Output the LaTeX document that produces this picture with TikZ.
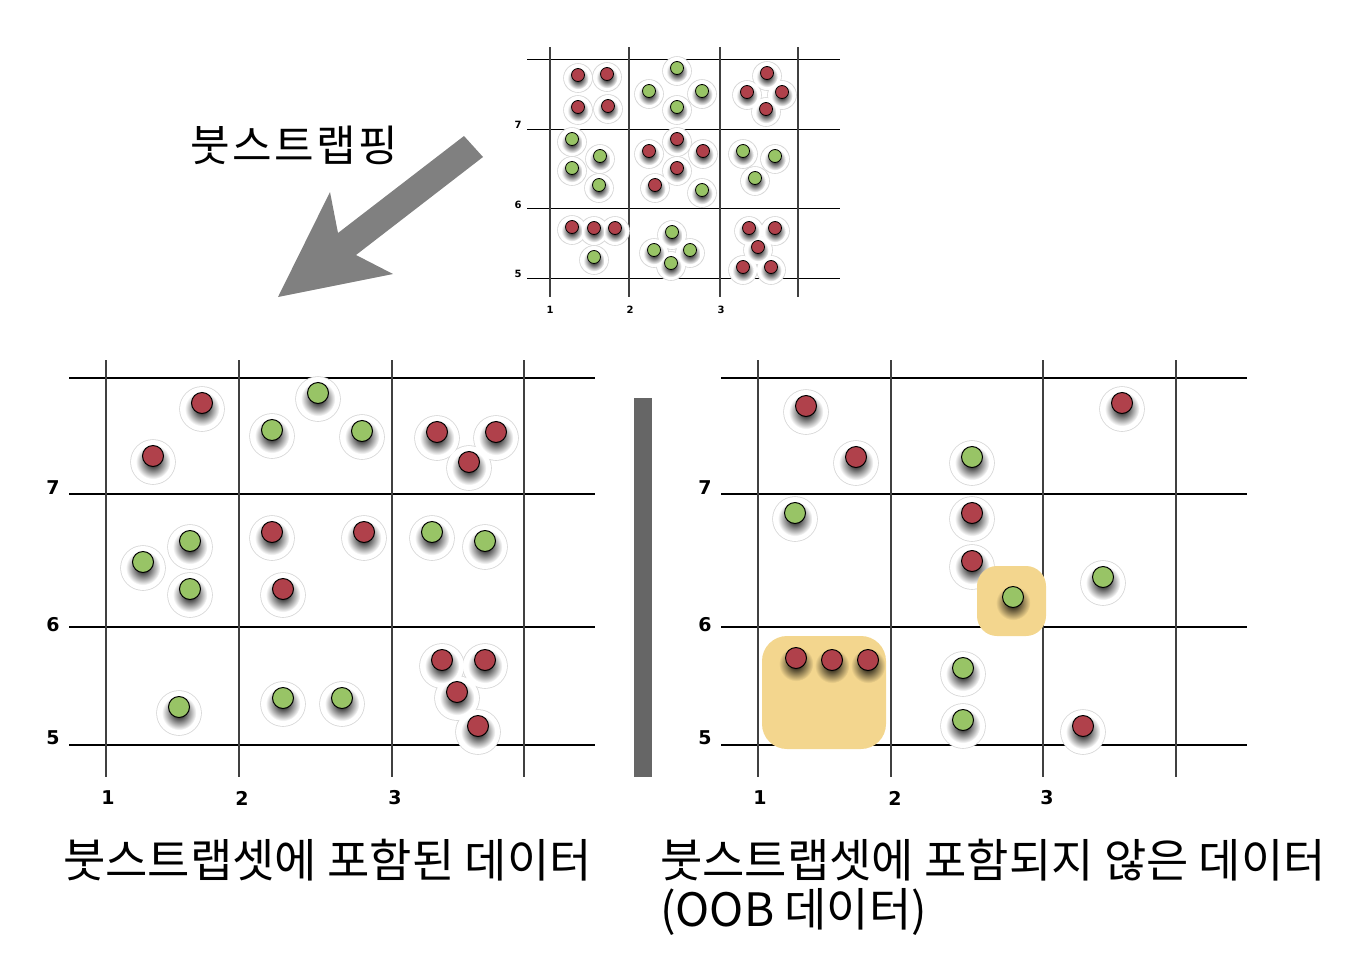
\documentclass[tikz,border=0pt]{standalone}
\usepackage{fontspec}
\setmainfont{Noto Sans CJK KR}
\newfontfamily\widefont[LetterSpace=6]{Noto Sans CJK KR}
\newfontfamily\numfont{DejaVu Sans}
\definecolor{dotred}{HTML}{B0414B}
\definecolor{dotgreen}{HTML}{98C466}
\definecolor{boxyellow}{HTML}{F3D68E}
\definecolor{arrowgray}{HTML}{808080}
\definecolor{bargray}{HTML}{666666}

% sample points: x/y/colour
\def\topdots{578/75/dotred,607/74/dotred,578/107/dotred,608/106/dotred,%
767/73/dotred,747/92/dotred,782/92/dotred,766/109/dotred,%
677/139/dotred,649/151/dotred,703/151/dotred,677/168/dotred,655/185/dotred,%
572/227/dotred,594/228/dotred,615/228/dotred,%
749/228/dotred,775/228/dotred,758/247/dotred,743/267/dotred,771/267/dotred,%
677/68/dotgreen,649/91/dotgreen,702/91/dotgreen,677/107/dotgreen,%
572/139/dotgreen,600/156/dotgreen,572/168/dotgreen,599/185/dotgreen,%
702/190/dotgreen,743/151/dotgreen,775/156/dotgreen,755/178/dotgreen,%
594/257/dotgreen,672/232/dotgreen,654/250/dotgreen,690/250/dotgreen,671/263/dotgreen}
\def\leftdots{202/403/dotred,153/456/dotred,437/432/dotred,496/432/dotred,469/462/dotred,%
272/532/dotred,364/532/dotred,283/589/dotred,%
442/660/dotred,485/660/dotred,457/692/dotred,478/726/dotred,%
143/562/dotgreen,190/541/dotgreen,190/589/dotgreen,272/430/dotgreen,318/393/dotgreen,%
362/431/dotgreen,432/532/dotgreen,485/541/dotgreen,179/707/dotgreen,283/698/dotgreen,342/698/dotgreen}
\def\rightdots{806/406/dotred,856/457/dotred,972/513/dotred,972/561/dotred,1122/403/dotred,1083/726/dotred,%
972/457/dotgreen,795/513/dotgreen,963/668/dotgreen,963/720/dotgreen,1103/577/dotgreen}
\def\hidots{796/658/dotred,832/660/dotred,868/660/dotred,1013/597/dotgreen}

% halo + shadow under a group of points: list, dot radius, halo radius, halo shift
\newcommand{\halogroup}[4]{%
  \foreach \x/\y/\c in #1 {\fill[black!16] (\x,{\y+#4}) circle ({#3+0.8});}
  \foreach \x/\y/\c in #1 {\fill[white] (\x,{\y+#4}) circle (#3);}
  \foreach \x/\y/\c in #1 {\shade[inner color=black, outer color=white] (\x,{\y+0.55*#2}) circle ({1.65*#2});}
}

\begin{document}
\begin{tikzpicture}[x=1pt,y=-1pt]
  \tikzset{hline/.style = {black, line width=1.2pt}}
  \tikzset{vline/.style = {black!75, line width=1.8pt}}
  \tikzset{dotline/.style = {draw=black, line width=1pt}}
  \tikzset{bigtick/.style = {font=\numfont\bfseries\fontsize{19}{19}\selectfont, inner sep=0}}
  \tikzset{smalltick/.style = {font=\numfont\bfseries\fontsize{10}{10}\selectfont, inner sep=0}}
  \tikzset{caption/.style = {anchor=west, inner sep=0, font=\fontsize{46}{46}\selectfont}}
  \useasboundingbox (0,0) rectangle (1364,956);
  % grids
  \foreach \y in {59,129,208,278} \draw[hline, line width=1pt] (527,\y) -- (840,\y);
  \foreach \x in {550,629,720,798} \draw[vline, line width=1.4pt] (\x,47) -- (\x,297);
  \foreach \y in {378,494,627,745} \draw[hline] (69,\y) -- (595,\y);
  \foreach \x in {106,239,392,524} \draw[vline] (\x,360) -- (\x,777);
  \foreach \y in {378,494,627,745} \draw[hline] (721,\y) -- (1247,\y);
  \foreach \x in {758,891,1043,1176} \draw[vline] (\x,360) -- (\x,777);
  % halos
  \halogroup{\topdots}{6.5}{14}{3}
  \halogroup{\leftdots}{10.5}{22}{6}
  \halogroup{\rightdots}{10.5}{22}{6}
  % highlighted out-of-bag points
  \fill[boxyellow, rounded corners=25pt] (762,636) rectangle (886,749);
  \fill[boxyellow, rounded corners=20pt] (977,566) rectangle (1046,636);
  \foreach \x/\y/\c in \hidots {\shade[inner color=black, outer color=boxyellow] (\x,{\y+5.8}) circle (17.3);}
  % points
  \foreach \x/\y/\c in \topdots {\filldraw[dotline, fill=\c, line width=0.8pt] (\x,\y) circle (6.5);}
  \foreach \x/\y/\c in \leftdots {\filldraw[dotline, fill=\c] (\x,\y) circle (10.5);}
  \foreach \x/\y/\c in \rightdots {\filldraw[dotline, fill=\c] (\x,\y) circle (10.5);}
  \foreach \x/\y/\c in \hidots {\filldraw[dotline, fill=\c] (\x,\y) circle (10.5);}
  % axis labels
  \node[smalltick] (t7) at (518,125) {7};
  \node[smalltick] (t6) at (518,205) {6};
  \node[smalltick] (t5) at (518,274) {5};
  \node[smalltick] (t1) at (550,310) {1};
  \node[smalltick] (t2) at (630,310) {2};
  \node[smalltick] (t3) at (721,310) {3};
  \node[bigtick] (l7) at (53,488) {7};
  \node[bigtick] (l6) at (53,625) {6};
  \node[bigtick] (l5) at (53,738) {5};
  \node[bigtick] (l1) at (108,798) {1};
  \node[bigtick] (l2) at (242,798) {2};
  \node[bigtick] (l3) at (395,798) {3};
  \node[bigtick] (r7) at (705,488) {7};
  \node[bigtick] (r6) at (705,625) {6};
  \node[bigtick] (r5) at (705,738) {5};
  \node[bigtick] (r1) at (760,798) {1};
  \node[bigtick] (r2) at (895,798) {2};
  \node[bigtick] (r3) at (1047,798) {3};
  % arrow and separator
  \fill[arrowgray] (464,136) -- (483,157) -- (356,255) -- (393,274) -- (278,297) -- (330,192) -- (338,233) -- cycle;
  \fill[bargray] (634,398) rectangle (652,777);
  % captions
  \node[caption, font=\widefont\fontsize{43}{43}\selectfont] (boot) at (190,145) {붓스트랩핑};
  \node[caption] (inbag) at (63,860) {붓스트랩셋에 포함된 데이터};
  \node[caption] (oob) at (660,860) {붓스트랩셋에 포함되지 않은 데이터};
  \node[caption] (oobtag) at (660,912) {(OOB 데이터)};
\end{tikzpicture}
\end{document}
